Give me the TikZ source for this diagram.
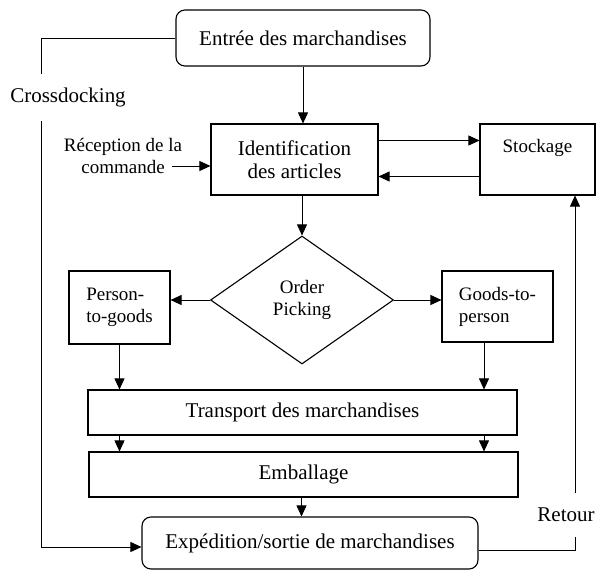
\documentclass[tikz,border=0pt]{standalone}
\usepackage{fontspec}
\setmainfont{Liberation Serif}
\usetikzlibrary{arrows.meta,shapes.geometric}

\begin{document}
\begin{tikzpicture}[x=1pt,y=-1pt,
    box/.style={draw,line width=1.1pt,inner sep=2pt,align=center},
    rbox/.style={box,rounded corners=9pt},
    big/.style={font=\fontsize{21}{23}\selectfont},
    small/.style={font=\fontsize{19}{22}\selectfont},
    arr/.style={-{Triangle[length=11pt,width=10pt]},line width=0.7pt},
    line/.style={line width=0.7pt}]
  \useasboundingbox (0,0) rectangle (597,570);
  % boxes
  \node[rbox,big,minimum width=254pt,minimum height=56pt] (entree) at (303,38) {Entrée des marchandises};
  \node[box,big,minimum width=167pt,minimum height=71pt] (ident) at (294.5,159.5) {Identification\\des articles};
  \node[box,small,minimum width=115pt,minimum height=71pt,text depth=28pt] (stock) at (537.5,159.5) {Stockage};
  \node[diamond,draw,line width=1.1pt,small,align=center,inner sep=0pt,minimum width=183pt,minimum height=128pt] (pick) at (302,300) {Order\\Picking};
  \node[box,small,align=left,minimum width=101pt,minimum height=73pt] (ptog) at (119.5,307.5) {Person-\\to-goods};
  \node[box,small,align=left,minimum width=111pt,minimum height=71pt] (gtop) at (497.5,306.5) {Goods-to-\\person};
  \node[box,big,minimum width=429pt,minimum height=45pt] (trans) at (302.5,412.5) {Transport des marchandises};
  \node[box,big,minimum width=429pt,minimum height=45pt] (emb) at (303.5,474.5) {Emballage};
  \node[rbox,big,minimum width=336pt,minimum height=52pt] (exped) at (310,543) {Expédition/sortie de marchandises};
  % labels
  \node[small,align=center] (recep) at (123,156) {Réception de la\\commande};
  \node[big] (cross) at (68,97) {Crossdocking};
  \node[big] (retour) at (566,515) {Retour};
  \coordinate (recepin) at (172,166);
  \coordinate (cdtop) at (41,74);
  \coordinate (cdbot) at (41,121);
  \coordinate (rtbot) at (575,537);
  \coordinate (rttop) at (575,493);
  % arrows
  \draw[arr] (entree.south) -- (entree.south |- ident.north);
  \draw[arr] (recepin) -- (recepin -| ident.west);
  \draw[arr] ([yshift=19pt]ident.east) -- ([yshift=19pt]stock.west);
  \draw[arr] ([yshift=-17pt]stock.west) -- ([yshift=-17pt]ident.east);
  \draw[arr] (pick.north |- ident.south) -- (pick.north);
  \draw[arr] (pick.west) -- (pick.west -| ptog.east);
  \draw[arr] (pick.east) -- (pick.east -| gtop.west);
  \draw[arr] (ptog.south) -- (ptog.south |- trans.north);
  \draw[arr] ([xshift=-13.5pt]gtop.south) -- ([xshift=-13.5pt]gtop.south |- trans.north);
  \draw[arr] (ptog.south |- trans.south) -- (ptog.south |- emb.north);
  \draw[arr] ([xshift=-13.5pt]gtop.south |- trans.south) -- ([xshift=-13.5pt]gtop.south |- emb.north);
  \draw[arr] ([xshift=-2pt]emb.south) -- ([xshift=-2pt]emb.south |- exped.north);
  % crossdocking and retour
  \draw[line] (entree.west) -| (cdtop);
  \draw[arr] (cdbot) |- ([yshift=-4pt]exped.west);
  \draw[line] ([yshift=-7pt]exped.east) -| (rtbot);
  \draw[arr] (rttop) -- (rttop |- stock.south);
\end{tikzpicture}
\end{document}
